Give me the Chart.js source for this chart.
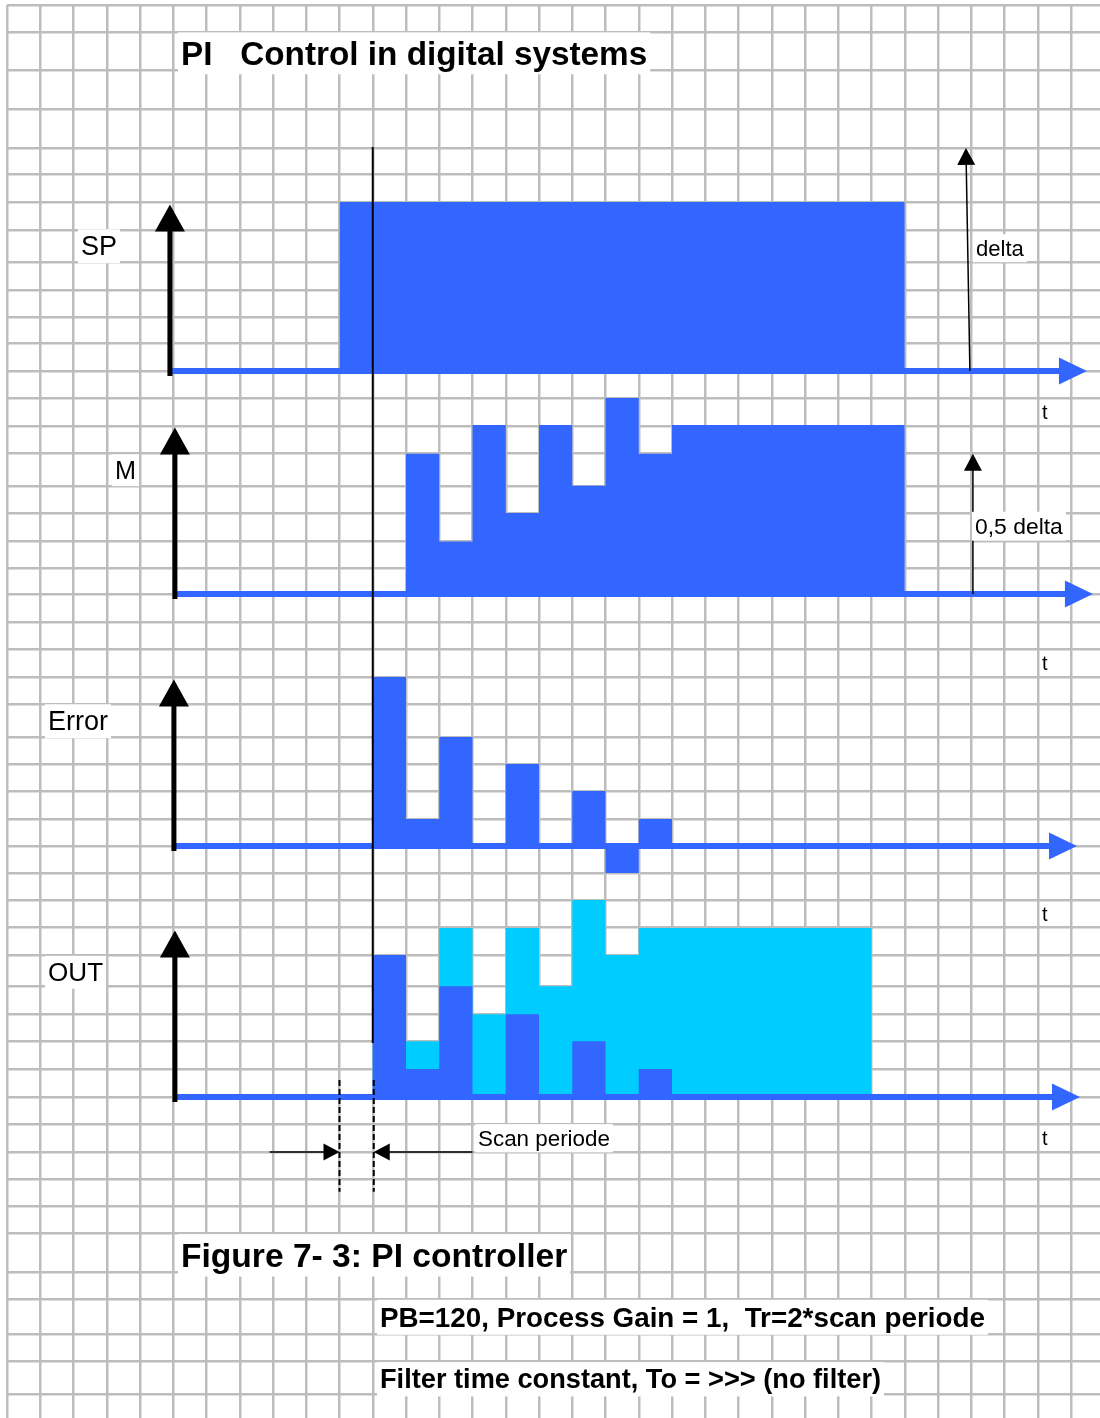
<!DOCTYPE html>
<html>
<head>
<meta charset="utf-8">
<script src="https://cdn.jsdelivr.net/npm/chart.js@4.4.1/dist/chart.umd.min.js"></script>
<style>
  html, body { margin: 0; padding: 0; background: #fff; }
  canvas { display: block; }
</style>
</head>
<body>
<canvas id="c" width="1100" height="1418"></canvas>
<script>
// one grid column = one scan period, heights in units of "delta"
const time      = [10, 11, 12, 13, 14, 15, 16, 17, 18, 19, 20, 21, 22, 23, 24, 25, 26, 27];
const spValues  = [1, 1, 1, 1, 1, 1, 1, 1, 1, 1, 1, 1, 1, 1, 1, 1, 1, 0];
const mValues   = [0, 0, 0.83, 0.31, 1, 0.48, 1, 0.64, 1.16, 0.83, 1, 1, 1, 1, 1, 1, 1, 0];
const errValues = [0, 1, 0.16, 0.645, 0, 0.485, 0, 0.325, -0.16, 0.16, 0, 0, 0, 0, 0, 0, 0, 0];
const outP      = [0, 0.84, 0.165, 0.655, 0, 0.49, 0, 0.33, 0, 0.165, 0, 0, 0, 0, 0, 0, 0, 0];
const outTotal  = [0, 0.84, 0.33, 1, 0.49, 1, 0.655, 1.165, 0.84, 1, 1, 1, 1, 1, 1, 1, 0, 0];

// layout of the squared paper
const W = 1100, H = 1418;
const LEFT = 7, TOP = 5;
const COL = 33.25;          // px per scan period
const UNIT = 169;           // px per delta
const gridCols = Array.from({ length: 33 }, (_, i) => i);
const gridRows = [5, 32, 70, 109, 148, 174, 202, 230, 262, 290, 317, 343, 371, 398, 426, 453,
  486, 513, 541, 568, 594, 622, 649, 677, 704, 737, 764, 791, 819, 846, 873, 900, 927, 955,
  986, 1014, 1041, 1069, 1097, 1124, 1152, 1179, 1206, 1233, 1272, 1299, 1334, 1361, 1394];
const baselines = { ySP: 371, yM: 594, yErr: 846, yOUT: 1097 };

const BLUE = '#3366ff';
const CYAN = '#00ccff';
const FONT = '"Liberation Sans", Arial, sans-serif';

function series(vals, axis, color) {
  return {
    data: time.map((t, i) => ({ x: t, y: vals[i] })),
    yAxisID: axis,
    stepped: true,
    fill: 'origin',
    backgroundColor: color,
    borderColor: 'rgba(0,0,0,0)',
    borderWidth: 0,
    pointRadius: 0
  };
}

function panelAxis(base) {
  const max = (base - TOP) / UNIT;
  return { type: 'linear', display: false, max: max, min: max - (H - TOP) / UNIT };
}

function tri(ctx, x, y, dx, dy, len, half) {
  const bx = x - dx * len, by = y - dy * len;
  ctx.beginPath();
  ctx.moveTo(x, y);
  ctx.lineTo(bx - dy * half, by + dx * half);
  ctx.lineTo(bx + dy * half, by - dx * half);
  ctx.closePath();
  ctx.fill();
}

function arrow(ctx, x0, y0, x1, y1, lw, len, half, color) {
  const d = Math.hypot(x1 - x0, y1 - y0), dx = (x1 - x0) / d, dy = (y1 - y0) / d;
  ctx.strokeStyle = color;
  ctx.fillStyle = color;
  ctx.lineWidth = lw;
  ctx.beginPath();
  ctx.moveTo(x0, y0);
  ctx.lineTo(x1 - dx * len * 0.7, y1 - dy * len * 0.7);
  ctx.stroke();
  tri(ctx, x1, y1, dx, dy, len, half);
}

function label(ctx, t) {
  const weight = t.bold ? 'bold ' : '';
  let size = t.size;
  ctx.font = weight + size + 'px ' + FONT;
  if (t.w) {
    size = size * t.w / ctx.measureText(t.text).width;
    ctx.font = weight + size.toFixed(1) + 'px ' + FONT;
  }
  const w = ctx.measureText(t.text).width;
  if (t.box !== false) {
    ctx.fillStyle = '#fff';
    ctx.fillRect(t.x - 3, t.y - size * 0.62, w + 6, size * 1.26);
  }
  ctx.fillStyle = '#000';
  ctx.textAlign = 'left';
  ctx.textBaseline = 'middle';
  ctx.fillText(t.text, t.x, t.y + size * 0.07);
}

const labels = [
  { text: 'PI   Control in digital systems', x: 181, y: 53, size: 28, w: 466, bold: true },
  { text: 'SP', x: 81, y: 246, size: 24, w: 36 },
  { text: 'M', x: 115, y: 470, size: 24, w: 21 },
  { text: 'Error', x: 48, y: 721, size: 24, w: 60 },
  { text: 'OUT', x: 48, y: 972, size: 24, w: 55 },
  { text: 't', x: 1042, y: 412, size: 20, box: false },
  { text: 't', x: 1042, y: 663, size: 20, box: false },
  { text: 't', x: 1042, y: 914, size: 20, box: false },
  { text: 't', x: 1042, y: 1138, size: 20, box: false },
  { text: 'delta', x: 976, y: 248, size: 20, w: 48 },
  { text: '0,5 delta', x: 975, y: 526, size: 20, w: 88 },
  { text: 'Scan periode', x: 478, y: 1138, size: 20, w: 132 },
  { text: 'Figure 7- 3: PI controller', x: 181, y: 1255, size: 28, w: 387, bold: true },
  { text: 'PB=120, Process Gain = 1,  Tr=2*scan periode', x: 380, y: 1317, size: 22, w: 604, bold: true },
  { text: 'Filter time constant, To = >>> (no filter)', x: 380, y: 1379, size: 22, w: 502, bold: true }
];

// axis arrows: column of the vertical arrow, column of the time arrow tip
const panelArrows = [
  { axis: 'ySP', vx: 4.90, tip: 32.48 },
  { axis: 'yM', vx: 5.05, tip: 32.66 },
  { axis: 'yErr', vx: 5.02, tip: 32.18 },
  { axis: 'yOUT', vx: 5.05, tip: 32.27 }
];

const overlay = {
  id: 'overlay',
  afterDatasetsDraw(chart) {
    const ctx = chart.ctx, s = chart.scales;
    const X = c => s.x.getPixelForValue(c);
    const Y = (a, v) => s[a].getPixelForValue(v);
    ctx.save();

    // time axes (blue) and value axes (black)
    panelArrows.forEach(p => {
      const y0 = Y(p.axis, 0);
      arrow(ctx, X(p.vx + 0.05), y0, X(p.tip), y0, 6, 28, 13.5, BLUE);
    });
    panelArrows.forEach(p => {
      arrow(ctx, X(p.vx), Y(p.axis, -0.03), X(p.vx), Y(p.axis, 0.985), 5, 27, 15, '#000');
    });

    // set point step instant
    ctx.strokeStyle = '#000';
    ctx.lineWidth = 2;
    ctx.beginPath();
    ctx.moveTo(X(11), Y('ySP', 1.325));
    ctx.lineTo(X(11), Y('yOUT', 0.32));
    ctx.stroke();

    // delta and 0,5 delta arrows
    arrow(ctx, X(28.96), Y('ySP', 0), X(28.84), Y('ySP', 1.32), 1.5, 17, 9, '#000');
    arrow(ctx, X(29.05), Y('yM', 0), X(29.05), Y('yM', 0.83), 1.5, 17, 9, '#000');

    // scan period marker
    ctx.setLineDash([6, 3]);
    ctx.lineWidth = 2;
    [10, 11.03].forEach(c => {
      ctx.beginPath();
      ctx.moveTo(X(c), Y('yOUT', 0.1));
      ctx.lineTo(X(c), Y('yOUT', -0.56));
      ctx.stroke();
    });
    ctx.setLineDash([]);
    const ys = Y('yOUT', -0.325);
    arrow(ctx, X(7.9), ys, X(10), ys, 1.5, 16, 8.5, '#000');
    arrow(ctx, X(14.0), ys, X(11.03), ys, 1.5, 16, 8.5, '#000');

    labels.forEach(t => label(ctx, t));
    ctx.restore();
  }
};

const gridStyle = { color: '#bdbdbd', lineWidth: 2.5, drawTicks: false };

new Chart(document.getElementById('c'), {
  type: 'line',
  data: {
    datasets: [
      series(spValues, 'ySP', BLUE),
      series(mValues, 'yM', BLUE),
      series(errValues, 'yErr', BLUE),
      series(outP, 'yOUT', BLUE),
      series(outTotal, 'yOUT', CYAN)
    ]
  },
  options: {
    responsive: false,
    animation: false,
    devicePixelRatio: 1,
    layout: { padding: { left: LEFT, top: TOP, right: 0, bottom: 0 } },
    plugins: { legend: { display: false }, tooltip: { enabled: false }, title: { display: false } },
    scales: {
      x: {
        type: 'linear', min: 0, max: (W - LEFT) / COL,
        afterBuildTicks: sc => { sc.ticks = gridCols.map(v => ({ value: v })); },
        afterFit: sc => { sc.height = 0; },
        ticks: { display: false }, grid: gridStyle, border: { display: false }
      },
      yg: {
        type: 'linear', position: 'left', reverse: true, min: TOP, max: H,
        afterBuildTicks: sc => { sc.ticks = gridRows.map(v => ({ value: v })); },
        afterFit: sc => { sc.width = 0; },
        ticks: { display: false }, grid: gridStyle, border: { display: false }
      },
      ySP: panelAxis(baselines.ySP),
      yM: panelAxis(baselines.yM),
      yErr: panelAxis(baselines.yErr),
      yOUT: panelAxis(baselines.yOUT)
    }
  },
  plugins: [overlay]
});
</script>
</body>
</html>
